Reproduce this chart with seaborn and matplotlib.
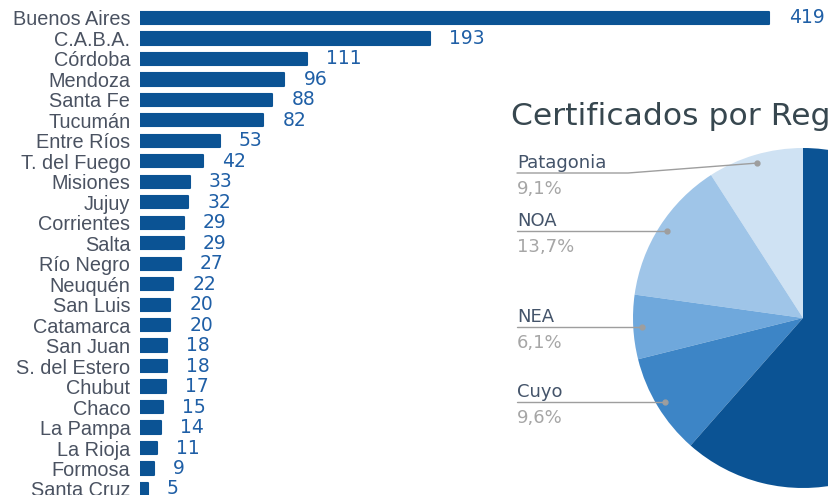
import matplotlib.pyplot as plt
import seaborn as sns
import pandas as pd
import numpy as np
from matplotlib.lines import Line2D

provincias = ["Buenos Aires", "C.A.B.A.", "Córdoba", "Mendoza", "Santa Fe", "Tucumán",
              "Entre Ríos", "T. del Fuego", "Misiones", "Jujuy", "Corrientes", "Salta",
              "Río Negro", "Neuquén", "San Luis", "Catamarca", "San Juan", "S. del Estero",
              "Chubut", "Chaco", "La Pampa", "La Rioja", "Formosa", "Santa Cruz"]
certificados = [419, 193, 111, 96, 88, 82, 53, 42, 33, 32, 29, 29, 27, 22, 20, 20,
                18, 18, 17, 15, 14, 11, 9, 5]

regiones = ["Patagonia", "NOA", "NEA", "Cuyo", "Centro"]
porcentajes = [9.1, 13.7, 6.1, 9.6, 61.5]
colores_region = ["#cfe2f3", "#9fc5e8", "#6fa8dc", "#3d85c6", "#0b5394"]

W, H = 829, 495
sns.set_theme(style="white")
plt.rcParams['font.family'] = ['Liberation Sans', 'DejaVu Sans']

fig = plt.figure(figsize=(W / 100, H / 100), dpi=100)

# --- barras por provincia
ax = fig.add_axes([140 / W, (H - 499.2) / H, 676 / W, 491.5 / H])
ax.set_facecolor("none")
df = pd.DataFrame({"provincia": provincias, "certificados": certificados})
sns.barplot(data=df, y="provincia", x="certificados", color="#0b5394",
            saturation=1, width=0.6, ax=ax)
for p in ax.patches:
    p.set_edgecolor("#0b5394")
    p.set_linewidth(1.5)
    p.set_joinstyle("round")
ax.set_xlim(0, 450)
ax.set_ylim(len(provincias) - 0.5, -0.5)
ax.bar_label(ax.containers[0], padding=14, fontsize=13.5, color="#1f5fa6",
             fontfamily="DejaVu Sans")
ax.tick_params(axis="y", length=0, pad=7, labelsize=14.3, labelcolor="#4a5261")
ax.set_xticks([])
ax.set_xlabel("")
ax.set_ylabel("")
sns.despine(ax=ax, left=True, bottom=True)

# --- torta por region
R = 170
cx, cy = 803, 318
pax = fig.add_axes([(cx - R) / W, (H - cy - R) / H, 2 * R / W, 2 * R / H])
wedges, _ = pax.pie(porcentajes, colors=colores_region, startangle=90,
                    counterclock=True, radius=1, wedgeprops=dict(linewidth=0))
pax.set_xlim(-1, 1)
pax.set_ylim(-1, 1)

fig.text(511 / W, (H - 125) / H, "Certificados por Región", fontsize=22.6,
         color="#37474f", family="DejaVu Sans", va="baseline")

x_txt = 517
for w, nombre, pct in zip(wedges[:4], regiones[:4], porcentajes[:4]):
    ang = np.deg2rad((w.theta1 + w.theta2) / 2)
    px, py = pax.transData.transform((0.95 * np.cos(ang), 0.95 * np.sin(ang)))
    dot_y = H - py
    line_y = max(dot_y, 173)
    xs = [x_txt, 628, px] if line_y != dot_y else [x_txt, px]
    ys = [line_y, line_y, dot_y] if line_y != dot_y else [line_y, dot_y]
    fig.add_artist(Line2D([x / W for x in xs], [(H - y) / H for y in ys],
                          color="#9e9e9e", lw=1))
    fig.add_artist(Line2D([px / W], [py / H], marker="o", ms=3.5,
                          color="#9e9e9e", lw=0))
    fig.text(x_txt / W, (H - line_y + 5) / H, nombre, fontsize=13,
             family="DejaVu Sans", color="#44546a", va="baseline")
    fig.text(x_txt / W, (H - line_y - 21) / H, f"{pct:.1f}%".replace(".", ","),
             fontsize=13, family="DejaVu Sans", color="#a6a6a6", va="baseline")

fig.savefig("out.png", dpi=100)
